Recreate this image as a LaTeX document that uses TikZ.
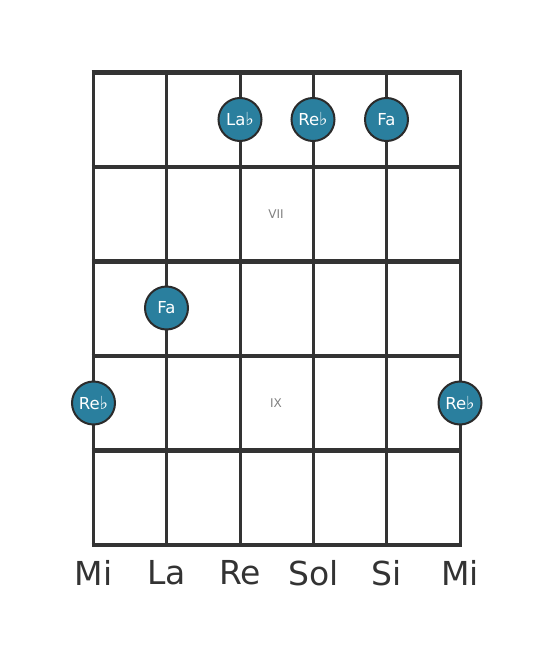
\documentclass[tikz,border=0pt]{standalone}
\usepackage{fontspec}
\setmainfont{DejaVu Sans}
\definecolor{gridcol}{HTML}{333333}
\definecolor{dotfill}{HTML}{2A7F9E}
\definecolor{dotrim}{HTML}{2B2B2B}
\definecolor{fretnum}{HTML}{808080}
\tikzset{
  notedot/.style={circle,draw=dotrim,line width=2pt,fill=dotfill,minimum size=43pt,inner sep=0pt,
    text=white,font=\fontsize{16.5}{16.5}\selectfont},
  fretlabel/.style={text=fretnum,font=\fontsize{12}{12}\selectfont},
  stringname/.style={text=gridcol,font=\fontsize{33}{33}\selectfont}
}
\newcommand{\flt}{{\fontsize{18}{18}\selectfont ♭}}
\begin{document}
\begin{tikzpicture}[x=1pt,y=-1pt]
\useasboundingbox (0,0) rectangle (553,656);
% strings
\foreach \i in {0,...,5}
  \draw[gridcol,line width=3pt] (93.5+73.3*\i,72.5) -- (93.5+73.3*\i,545);
% frets
\foreach \j in {0,...,5}
  \draw[gridcol,line width=4.2pt] (91.5,72.5+94.5*\j) -- (462,72.5+94.5*\j);
% fret numbers
\node[fretlabel] (vii) at (276,214) {VII};
\node[fretlabel] (ix) at (276,403) {IX};
% notes
\node[notedot] (lab) at (240,119.5) {La\flt};
\node[notedot] (reb1) at (313,119.5) {Re\flt};
\node[notedot] (fa1) at (386.5,119.5) {Fa};
\node[notedot] (fa2) at (166.5,308) {Fa};
\node[notedot] (reb2) at (93.5,403) {Re\flt};
\node[notedot] (reb3) at (460,403) {Re\flt};
% string names
\foreach \s [count=\k from 0] in {Mi,La,Re,Sol,Si,Mi}
  \node[stringname] (str\k) at (93.5+73.3*\k,573) {\s};
\end{tikzpicture}
\end{document}
